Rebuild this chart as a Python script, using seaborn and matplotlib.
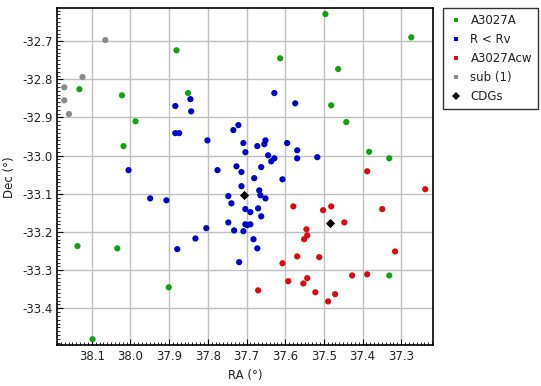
import numpy as np
import pandas as pd
import matplotlib
matplotlib.use("Agg")
import matplotlib.pyplot as plt
import seaborn as sns
from matplotlib.lines import Line2D
from matplotlib.ticker import MultipleLocator

# A3027A members (green)
a_ra = [37.496, 37.274, 37.881, 37.613, 37.463, 38.132, 38.022, 37.851, 37.481, 37.987,
        37.442, 38.018, 37.383, 37.331, 38.137, 38.034, 37.901, 37.331, 38.098]
a_dec = [-32.629, -32.690, -32.724, -32.745, -32.773, -32.826, -32.842, -32.836, -32.868, -32.910,
         -32.912, -32.975, -32.990, -33.007, -33.237, -33.243, -33.345, -33.314, -33.481]

# R < Rv (blue)
rv_ra = [37.884, 37.884, 37.874, 38.005, 37.845, 37.843, 37.628, 37.574, 37.721, 37.734,
         37.801, 37.708, 37.703, 37.672, 37.651, 37.654, 37.595, 37.569, 37.644, 37.628,
         37.636, 37.569, 37.662, 37.775, 37.726, 37.713, 37.517, 37.607, 37.949, 37.907,
         37.879, 37.680, 37.713, 37.667, 37.747, 37.664, 37.651, 37.739, 37.703, 37.690,
         37.670, 37.662, 37.747, 37.703, 37.698, 37.690, 37.804, 37.732, 37.708, 37.832,
         37.682, 37.672, 37.719]
rv_dec = [-32.870, -32.941, -32.941, -33.038, -32.852, -32.884, -32.836, -32.863, -32.920, -32.933,
          -32.960, -32.967, -32.991, -32.975, -32.960, -32.970, -32.967, -32.986, -32.999, -33.007,
          -33.015, -33.007, -33.030, -33.038, -33.028, -33.043, -33.004, -33.062, -33.112, -33.117,
          -33.245, -33.059, -33.080, -33.091, -33.106, -33.104, -33.112, -33.125, -33.140, -33.148,
          -33.138, -33.159, -33.175, -33.180, -33.182, -33.180, -33.190, -33.196, -33.198, -33.217,
          -33.219, -33.243, -33.279]

# A3027Acw (red)
cw_ra = [37.388, 37.238, 37.481, 37.502, 37.349, 37.447, 37.545, 37.543, 37.551, 37.316,
         37.512, 37.427, 37.388, 37.543, 37.553, 37.522, 37.471, 37.489, 37.579, 37.569,
         37.607, 37.592, 37.670]
cw_dec = [-33.041, -33.088, -33.133, -33.143, -33.140, -33.175, -33.193, -33.209, -33.219, -33.251,
          -33.266, -33.314, -33.311, -33.321, -33.335, -33.358, -33.363, -33.382, -33.133, -33.264,
          -33.282, -33.329, -33.353]

# sub (1) (grey)
sub_ra = [38.065, 38.124, 38.171, 38.171, 38.159]
sub_dec = [-32.697, -32.794, -32.821, -32.855, -32.891]

# CDGs
cdg_ra = [37.706, 37.483]
cdg_dec = [-33.104, -33.177]

groups = ["A3027A", "R < Rv", "A3027Acw", "sub (1)"]
colors = {"A3027A": "#16a016", "R < Rv": "#0000cc", "A3027Acw": "#dd0a14",
          "sub (1)": "#8a8a8a", "CDGs": "#000000"}

df = pd.concat([
    pd.DataFrame({"ra": a_ra, "dec": a_dec, "group": "A3027A"}),
    pd.DataFrame({"ra": rv_ra, "dec": rv_dec, "group": "R < Rv"}),
    pd.DataFrame({"ra": cw_ra, "dec": cw_dec, "group": "A3027Acw"}),
    pd.DataFrame({"ra": sub_ra, "dec": sub_dec, "group": "sub (1)"}),
], ignore_index=True)
cdg = pd.DataFrame({"ra": cdg_ra, "dec": cdg_dec})

sns.set_style("white")
plt.rcParams["font.family"] = ["DejaVu Sans"]
plt.rcParams["axes.unicode_minus"] = False

fig = plt.figure(figsize=(5.41, 3.86), dpi=100)
ax = fig.add_axes([0.106, 0.1054, 0.695, 0.873])

sns.scatterplot(data=df, x="ra", y="dec", hue="group", hue_order=groups,
                palette=colors, s=20, linewidth=0, legend=False, ax=ax, zorder=3)
sns.scatterplot(data=cdg, x="ra", y="dec", color="black", marker="D", s=22,
                linewidth=0, legend=False, ax=ax, zorder=4)

ax.set_xlim(38.189, 37.217)
ax.set_ylim(-33.497, -32.614)
ax.xaxis.set_major_locator(MultipleLocator(0.1))
ax.yaxis.set_major_locator(MultipleLocator(0.1))
ax.xaxis.set_minor_locator(MultipleLocator(0.01))
ax.yaxis.set_minor_locator(MultipleLocator(0.01))
ax.xaxis.set_major_formatter(plt.FormatStrFormatter("%.1f"))
ax.yaxis.set_major_formatter(plt.FormatStrFormatter("%.1f"))

ax.grid(True, which="major", color="#c0c0c0", linewidth=1.0, linestyle="-")
ax.set_axisbelow(True)
ax.tick_params(which="major", direction="in", length=4, width=0.8, color="black",
               labelsize=8.5, labelcolor="#222222", pad=3.5,
               bottom=True, left=True, top=False, right=False)
ax.tick_params(which="minor", direction="in", length=2, width=0.6, color="black",
               bottom=True, left=True, top=False, right=False)
for sp in ax.spines.values():
    sp.set_color("black")
    sp.set_linewidth(1.2)

ax.set_xlabel("RA (°)", fontsize=8.5, color="#222222", labelpad=4)
ax.set_ylabel("Dec (°)", fontsize=8.5, color="#222222", labelpad=4)

handles = [Line2D([], [], linestyle="none", marker="s", markersize=3.2,
                  markerfacecolor=colors[g], markeredgewidth=0) for g in groups]
handles.append(Line2D([], [], linestyle="none", marker="D", markersize=4,
                      markerfacecolor="black", markeredgewidth=0))
leg = fig.legend(handles, groups + ["CDGs"], loc="upper left",
                 bbox_to_anchor=(0.8194, 0.9785), borderaxespad=0,
                 fontsize=8.5, frameon=True, fancybox=False, handlelength=1.2,
                 handletextpad=0.6, labelspacing=0.5, borderpad=0.5)
leg.get_frame().set_edgecolor("black")
leg.get_frame().set_linewidth(1.0)
for t in leg.get_texts():
    t.set_color("#222222")

fig.savefig("out.png", dpi=100)
